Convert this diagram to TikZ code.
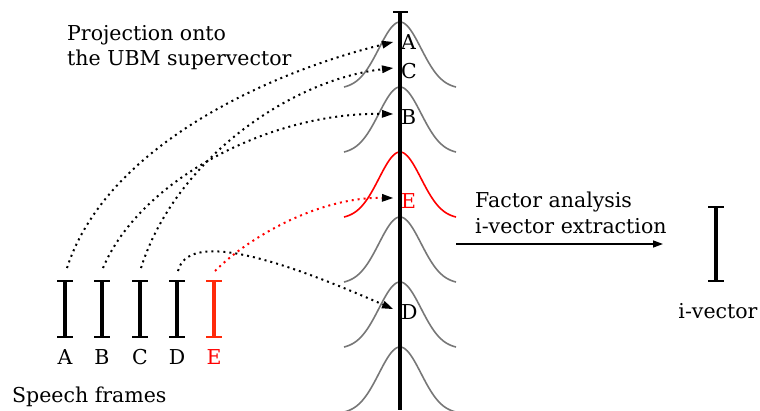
\documentclass[tikz,border=0pt]{standalone}
\usepackage{fontspec}
\setmainfont{DejaVu Serif}
\usetikzlibrary{arrows.meta}
\definecolor{gcol}{HTML}{777777}
\definecolor{barred}{HTML}{FF2A0A}
\begin{document}
\begin{tikzpicture}[x=1pt,y=-1pt,
  txt/.style={anchor=base west,inner sep=0pt,font=\fontsize{20.5}{24}\selectfont},
  ctxt/.style={anchor=base,inner sep=0pt,font=\fontsize{20.5}{24}\selectfont},
  gauss/.style={draw=gcol,line width=1.6pt},
  axisline/.style={line width=4pt},
  capline/.style={line width=2.2pt},
  barline/.style={line width=3.5pt},
  dotarrow/.style={line width=2pt,dash pattern=on 2pt off 4pt,
    -{Triangle[length=11pt,width=8pt,line width=0pt,color=black]}},
  plainarrow/.style={line width=1.4pt,-{Triangle[length=10pt,width=7pt]}}]
\useasboundingbox (0,0) rectangle (760,410);
% Gaussians
\foreach \b in {87,152,282,347,412}
  \draw[gauss] plot[domain=-56:56,samples=70,smooth] ({400+\x},{\b-65*(exp(-(\x*\x)/882)-0.0285)/0.9715});
\draw[gauss,draw=red] plot[domain=-56:56,samples=70,smooth] ({400+\x},{217-65*(exp(-(\x*\x)/882)-0.0285)/0.9715});
% UBM axis
\draw[axisline] (400,12) -- (400,410);
\draw[capline] (393,12) -- (408,12);
% labels on the axis
\node[txt] (lA) at (401,49) {A};
\node[txt] (lC) at (401,78) {C};
\node[txt] (lB) at (401,124) {B};
\node[txt,text=red] (lE) at (401,208) {E};
\node[txt] (lD) at (401,319) {D};
\coordinate (tA) at (393,42);
\coordinate (tC) at (393,68);
\coordinate (tB) at (393,114);
\coordinate (tE) at (393,198);
\coordinate (tD) at (393,309);
% speech frames
\foreach \x/\c in {65/black,102/black,140/black,177/black,214/barred}{
  \draw[barline,draw=\c] (\x,281) -- (\x,337);
  \draw[capline,draw=\c] (\x-8,281) -- (\x+8,281);
  \draw[capline,draw=\c] (\x-8,337) -- (\x+8,337);
}
\node[ctxt] (fA) at (65,364) {A};
\node[ctxt] (fB) at (102,364) {B};
\node[ctxt] (fC) at (140,364) {C};
\node[ctxt] (fD) at (177,364) {D};
\node[ctxt,text=red] (fE) at (214,364) {E};
\coordinate (sA) at (67,268);
\coordinate (sB) at (103,268);
\coordinate (sC) at (141,268);
\coordinate (sD) at (178,271);
\coordinate (sE) at (215,271);
% projections
\draw[dotarrow] (sA) .. controls (105,150) and (260,75) .. (tA);
\draw[dotarrow] (sB) .. controls (140,180) and (270,112) .. (tB);
\draw[dotarrow] (sC) .. controls (175,160) and (290,80) .. (tC);
\draw[dotarrow] (sD) .. controls (188,232) and (270,255) .. (tD);
\draw[dotarrow,draw=red] (sE) .. controls (250,236) and (320,197) .. (tE);
% texts
\node[txt] (p1) at (67,40) {Projection onto};
\node[txt] (p2) at (67,65) {the UBM supervector};
\node[txt] (sf) at (12,402) {Speech frames};
\node[txt] (fa1) at (475,207) {Factor analysis};
\node[txt] (fa2) at (475,233) {i-vector extraction};
% factor analysis arrow
\coordinate (a0) at (456,244);
\coordinate (a1) at (663,244);
\draw[plainarrow] (a0) -- (a1);
% i-vector
\draw[barline] (716,207) -- (716,281);
\draw[capline] (708,207) -- (724,207);
\draw[capline] (708,281) -- (724,281);
\node[ctxt] (iv) at (718,318) {i-vector};
\end{tikzpicture}
\end{document}
